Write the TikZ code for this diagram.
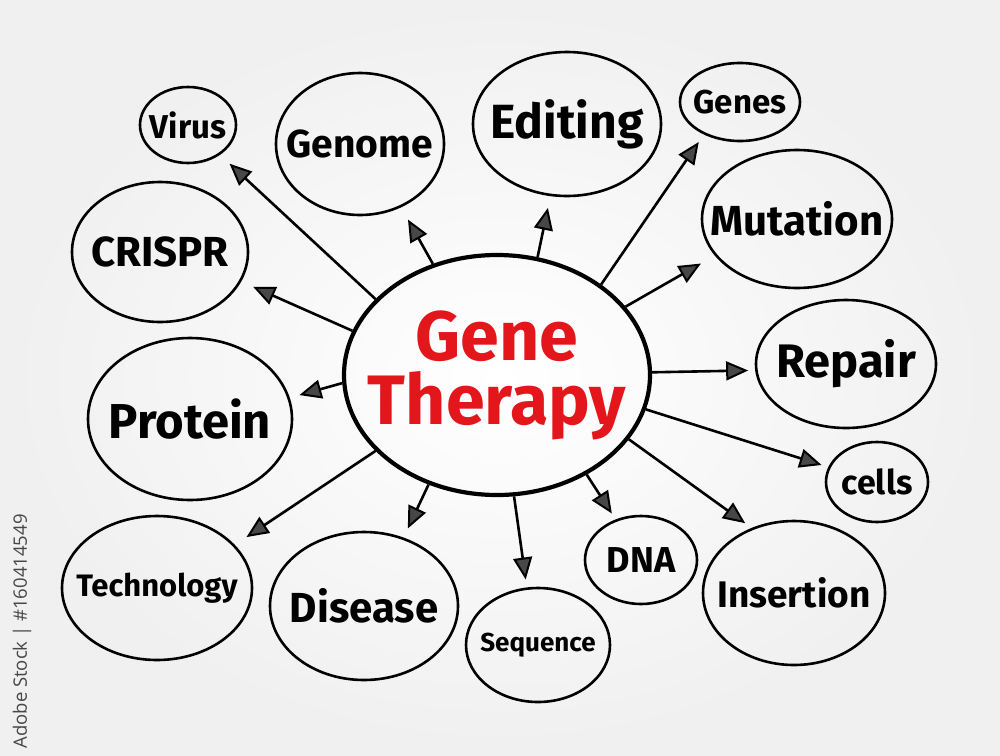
\documentclass[tikz,border=0pt]{standalone}
\usepackage{fontspec}
\setmainfont{Fira Sans}
\newfontfamily\wmfont{Open Sans}
\usetikzlibrary{shapes.geometric,arrows.meta}
\definecolor{gtred}{HTML}{E3161C}
\newcommand{\fs}[1]{\fontsize{#1}{#1}\selectfont}
\tikzset{
  bubble/.style={ellipse, draw=black, line width=2.6pt, inner sep=-40pt},
  hub/.style={ellipse, draw=black, line width=4.2pt, inner sep=-40pt, text=gtred, align=center},
  arr/.style={line width=2.6pt, -{Triangle[length=22pt,width=19pt,fill=black!72,line width=2pt]}},
}
\begin{document}
\begin{tikzpicture}[x=1pt,y=-1pt]
\shade[inner color=white, outer color=black!6] (0,0) rectangle (1000,755);
\useasboundingbox (0,0) rectangle (1000,755);

\node[hub, minimum width=306pt, minimum height=240pt, font=\bfseries\fontsize{70}{64}\selectfont] (c) at (497,375)
  {Gene\\Therapy};

\node[bubble, minimum width=96pt, minimum height=76pt, font=\bfseries\fs{33}] (virus) at (188,125) {Virus};
\node[bubble, minimum width=168pt, minimum height=142pt, font=\bfseries\fs{39}] (genome) at (360,144) {Genome};
\node[bubble, minimum width=188pt, minimum height=144pt, font=\bfseries\fs{48}] (editing) at (567,124) {Editing};
\node[bubble, minimum width=120pt, minimum height=78pt, font=\bfseries\fs{33}] (genes) at (740,102) {Genes};
\node[bubble, minimum width=190pt, minimum height=138pt, font=\bfseries\fs{42}] (mutation) at (797,219) {Mutation};
\node[bubble, minimum width=176pt, minimum height=140pt, font=\bfseries\fs{42}] (crispr) at (160,252) {CRISPR};
\node[bubble, minimum width=180pt, minimum height=128pt, font=\bfseries\fs{47}] (repair) at (846,364) {Repair};
\node[bubble, minimum width=204pt, minimum height=162pt, font=\bfseries\fs{49}] (protein) at (190,419) {Protein};
\node[bubble, minimum width=102pt, minimum height=80pt, font=\bfseries\fs{34}] (cells) at (877,482) {cells};
\node[bubble, minimum width=190pt, minimum height=144pt, font=\bfseries\fs{31}] (tech) at (157,588) {Technology};
\node[bubble, minimum width=188pt, minimum height=148pt, font=\bfseries\fs{42}] (disease) at (364,606) {Disease};
\node[bubble, minimum width=112pt, minimum height=88pt, font=\bfseries\fs{36}] (dna) at (641,560) {DNA};
\node[bubble, minimum width=144pt, minimum height=114pt, font=\bfseries\fs{26}] (sequence) at (538,645) {Sequence};
\node[bubble, minimum width=182pt, minimum height=144pt, font=\bfseries\fs{37}] (insertion) at (794,593) {Insertion};

\draw[arr, shorten >=13pt] (c.148.4) -- (virus.-43.5);
\draw[arr, shorten >=14pt] (c.120.7) -- (genome.-57);
\draw[arr, shorten >=12pt] (c.71.3) -- (editing.-103.5);
\draw[arr, shorten >=9pt] (c.41.3) -- (genes.222);
\draw[arr, shorten >=16pt] (c.28) -- (mutation.204.4);
\draw[arr, shorten >=13pt] (c.163.8) -- (crispr.-20.3);
\draw[arr, shorten >=7pt] (c.1.8) -- (repair.184);
\draw[arr, shorten >=10pt] (c.183) -- (protein.12);
\draw[arr, shorten >=7pt] (c.-13.6) -- (cells.163.8);
\draw[arr, shorten >=14pt] (c.212.6) -- (tech.29.6);
\draw[arr, shorten >=10pt] (c.238.4) -- (disease.60);
\draw[arr, shorten >=8pt] (c.278) -- (sequence.101);
\draw[arr, shorten >=7pt] (c.312) -- (dna.122.8);
\draw[arr, shorten >=8pt] (c.334.9) -- (insertion.123);

\node[rotate=90, anchor=west, text=black!72, font=\wmfont\fs{18.5}] (wm) at (22,752) {Adobe Stock | \#160414549};
\end{tikzpicture}
\end{document}
